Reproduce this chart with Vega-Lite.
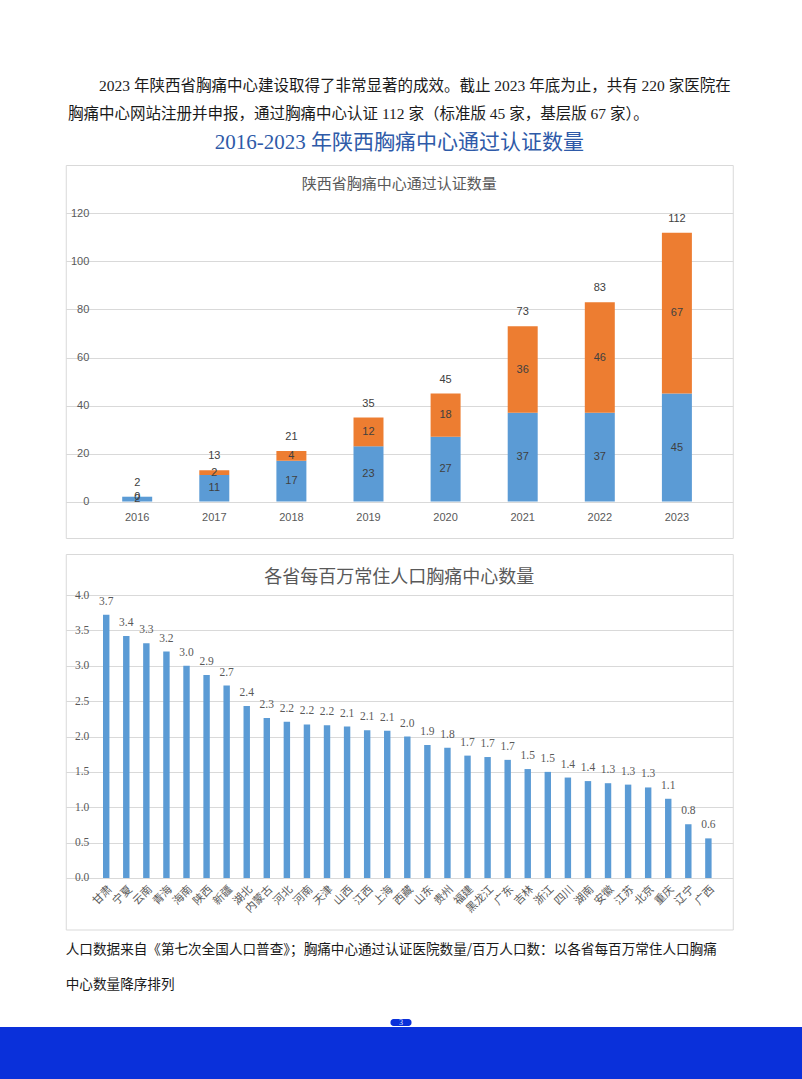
{
  "$schema": "https://vega.github.io/schema/vega-lite/v6.json",
  "background": "white",
  "padding": {"top": 79, "left": 0, "right": 0, "bottom": 0},
  "title": {
    "text": ["​　　2023 年陕西省胸痛中心建设取得了非常显著的成效。截止 2023 年底为止，共有 220 家医院在", "胸痛中心网站注册并申报，通过胸痛中心认证 112 家（标准版 45 家，基层版 67 家）。"],
    "anchor": "start",
    "frame": "group",
    "dx": 68,
    "fontSize": 15.5,
    "font": "Liberation Serif, Noto Sans CJK SC",
    "fontWeight": "normal",
    "color": "#1a1a1a",
    "lineHeight": 28,
    "offset": 9
  },
  "datasets": {
    "cert": [
      {"year": "2016", "type": "标准版", "value": 2},
      {"year": "2016", "type": "基层版", "value": 0},
      {"year": "2017", "type": "标准版", "value": 11},
      {"year": "2017", "type": "基层版", "value": 2},
      {"year": "2018", "type": "标准版", "value": 17},
      {"year": "2018", "type": "基层版", "value": 4},
      {"year": "2019", "type": "标准版", "value": 23},
      {"year": "2019", "type": "基层版", "value": 12},
      {"year": "2020", "type": "标准版", "value": 27},
      {"year": "2020", "type": "基层版", "value": 18},
      {"year": "2021", "type": "标准版", "value": 37},
      {"year": "2021", "type": "基层版", "value": 36},
      {"year": "2022", "type": "标准版", "value": 37},
      {"year": "2022", "type": "基层版", "value": 46},
      {"year": "2023", "type": "标准版", "value": 45},
      {"year": "2023", "type": "基层版", "value": 67}
    ],
    "prov": [
      {"province": "甘肃", "value": 3.72},
      {"province": "宁夏", "value": 3.42},
      {"province": "云南", "value": 3.32},
      {"province": "青海", "value": 3.2},
      {"province": "海南", "value": 3.0},
      {"province": "陕西", "value": 2.87},
      {"province": "新疆", "value": 2.72},
      {"province": "湖北", "value": 2.43},
      {"province": "内蒙古", "value": 2.26},
      {"province": "河北", "value": 2.21},
      {"province": "河南", "value": 2.17},
      {"province": "天津", "value": 2.16},
      {"province": "山西", "value": 2.14},
      {"province": "江西", "value": 2.09},
      {"province": "上海", "value": 2.08},
      {"province": "西藏", "value": 2.0},
      {"province": "山东", "value": 1.88},
      {"province": "贵州", "value": 1.84},
      {"province": "福建", "value": 1.73},
      {"province": "黑龙江", "value": 1.71},
      {"province": "广东", "value": 1.67},
      {"province": "吉林", "value": 1.54},
      {"province": "浙江", "value": 1.5},
      {"province": "四川", "value": 1.42},
      {"province": "湖南", "value": 1.37},
      {"province": "安徽", "value": 1.34},
      {"province": "江苏", "value": 1.32},
      {"province": "北京", "value": 1.28},
      {"province": "重庆", "value": 1.12},
      {"province": "辽宁", "value": 0.76},
      {"province": "广西", "value": 0.56}
    ],
    "page": [{"p": "3"}],
    "blank": [{"p": ""}]
  },
  "spacing": 26,
  "center": true,
  "vconcat": [
    {
      "title": {
        "text": ["人口数据来自《第七次全国人口普查》；胸痛中心通过认证医院数量/百万人口数：以各省每百万常住人口胸痛", "中心数量降序排列"],
        "orient": "bottom",
        "anchor": "start",
        "frame": "group",
        "fontSize": 13.6,
        "font": "Noto Sans CJK SC",
        "fontWeight": "normal",
        "color": "#1a1a1a",
        "lineHeight": 35,
        "offset": 13
      },
      "spacing": 14,
      "vconcat": [
        {
          "title": {
            "text": "2016-2023 年陕西胸痛中心通过认证数量",
            "anchor": "middle",
            "fontSize": 21,
            "font": "Liberation Serif, Noto Sans CJK SC",
            "fontWeight": "normal",
            "color": "#2E5AA8",
            "offset": 12
          },
          "vconcat": [
            {
              "width": 667,
              "height": 373,
              "view": {"stroke": "#D9D9D9", "strokeWidth": 1},
              "title": {
                "text": "陕西省胸痛中心通过认证数量",
                "frame": "group",
                "anchor": "middle",
                "baseline": "middle",
                "offset": -33.5,
                "fontSize": 15,
                "font": "Noto Sans CJK SC",
                "fontWeight": "normal",
                "color": "#595959"
              },
              "data": {"name": "cert"},
              "encoding": {
                "x": {
                  "field": "year",
                  "type": "ordinal",
                  "scale": {"paddingInner": 0.611, "paddingOuter": 0.631, "align": 0.58},
                  "axis": {
                    "title": null,
                    "labelAngle": 0,
                    "domain": false,
                    "ticks": false,
                    "tickSize": 0,
                    "offset": -36.5,
                    "labelPadding": 10,
                    "labelFont": "Liberation Sans",
                    "labelFontSize": 11,
                    "labelColor": "#595959"
                  }
                }
              },
              "layer": [
                {
                  "mark": {"type": "bar"},
                  "encoding": {
                    "y": {
                      "field": "value",
                      "type": "quantitative",
                      "stack": "zero",
                      "scale": {"domain": [-15.2, 140.2], "nice": false, "zero": false},
                      "axis": {
                        "title": null,
                        "values": [0, 20, 40, 60, 80, 100, 120],
                        "offset": -26,
                        "domain": false,
                        "ticks": false,
                        "tickSize": 0,
                        "labelPadding": 3,
                        "grid": true,
                        "gridColor": "#D9D9D9",
                        "labelFont": "Liberation Sans",
                        "labelFontSize": 11,
                        "labelColor": "#595959"
                      }
                    },
                    "color": {
                      "field": "type",
                      "type": "nominal",
                      "scale": {"domain": ["标准版", "基层版"], "range": ["#5B9BD5", "#ED7D31"]},
                      "legend": null
                    },
                    "order": {"field": "type", "sort": "descending"}
                  }
                },
                {
                  "mark": {"type": "text", "font": "Liberation Sans", "fontSize": 11, "color": "#404040", "baseline": "middle"},
                  "encoding": {
                    "y": {"field": "value", "type": "quantitative", "stack": "zero", "bandPosition": 0.5},
                    "detail": {"field": "type"},
                    "order": {"field": "type", "sort": "descending"},
                    "text": {"field": "value", "type": "quantitative"}
                  }
                },
                {
                  "transform": [{"aggregate": [{"op": "sum", "field": "value", "as": "total"}], "groupby": ["year"]}],
                  "mark": {"type": "text", "font": "Liberation Sans", "fontSize": 11, "color": "#404040", "baseline": "middle", "dy": -14},
                  "encoding": {
                    "y": {"field": "total", "type": "quantitative"},
                    "text": {"field": "total", "type": "quantitative"}
                  }
                }
              ]
            }
          ]
        },
        {
          "width": 667,
          "height": 375.5,
          "view": {"stroke": "#D9D9D9", "strokeWidth": 1},
          "title": {
            "text": "各省每百万常住人口胸痛中心数量",
            "frame": "group",
            "anchor": "middle",
            "baseline": "middle",
            "offset": -42,
            "fontSize": 18,
            "font": "Noto Sans CJK SC",
            "fontWeight": "normal",
            "color": "#595959"
          },
          "data": {"name": "prov"},
          "encoding": {
            "x": {
              "field": "province",
              "type": "nominal",
              "scale": {
                "domain": [" ", "甘肃", "宁夏", "云南", "青海", "海南", "陕西", "新疆", "湖北", "内蒙古", "河北", "河南", "天津", "山西", "江西", "上海", "西藏", "山东", "贵州", "福建", "黑龙江", "广东", "吉林", "浙江", "四川", "湖南", "安徽", "江苏", "北京", "重庆", "辽宁", "广西", "  "],
                "paddingInner": 0.68,
                "paddingOuter": 0.455,
                "align": 0.94
              },
              "axis": {
                "title": null,
                "labelAngle": -45,
                "domain": false,
                "ticks": false,
                "tickSize": 0,
                "offset": -51.5,
                "labelPadding": 5,
                "labelFont": "Liberation Serif, Noto Sans CJK SC",
                "labelFontSize": 11,
                "labelColor": "#595959"
              }
            }
          },
          "layer": [
            {
              "mark": {"type": "bar", "color": "#5B9BD5"},
              "encoding": {
                "y": {
                  "field": "value",
                  "type": "quantitative",
                  "scale": {"domain": [-0.728, 4.58], "nice": false, "zero": false},
                  "axis": {
                    "title": null,
                    "values": [0, 0.5, 1, 1.5, 2, 2.5, 3, 3.5, 4],
                    "format": ".1f",
                    "offset": -26,
                    "domain": false,
                    "ticks": false,
                    "tickSize": 0,
                    "labelPadding": 3,
                    "grid": true,
                    "gridColor": "#D9D9D9",
                    "labelFont": "Liberation Serif",
                    "labelFontSize": 11.5,
                    "labelColor": "#595959"
                  }
                }
              }
            },
            {
              "mark": {"type": "text", "font": "Liberation Serif", "fontSize": 11.5, "color": "#595959", "baseline": "middle", "dy": -13},
              "encoding": {
                "y": {"field": "value", "type": "quantitative"},
                "text": {"field": "value", "type": "quantitative", "format": ".1f"}
              }
            }
          ]
        }
      ]
    },
    {
      "spacing": 0,
      "center": true,
      "vconcat": [
        {
          "width": 21,
          "height": 7,
          "view": {"fill": "#0A30DA", "stroke": null, "cornerRadius": 3},
          "data": {"name": "page"},
          "mark": {"type": "text", "fontSize": 8, "color": "#DDE6FF", "font": "Liberation Serif", "baseline": "middle"},
          "encoding": {"text": {"field": "p"}}
        },
        {
          "width": 802,
          "height": 52,
          "view": {"fill": "#0A30DA", "stroke": null},
          "data": {"name": "blank"},
          "mark": {"type": "text"},
          "encoding": {"text": {"field": "p"}}
        }
      ]
    }
  ]
}
